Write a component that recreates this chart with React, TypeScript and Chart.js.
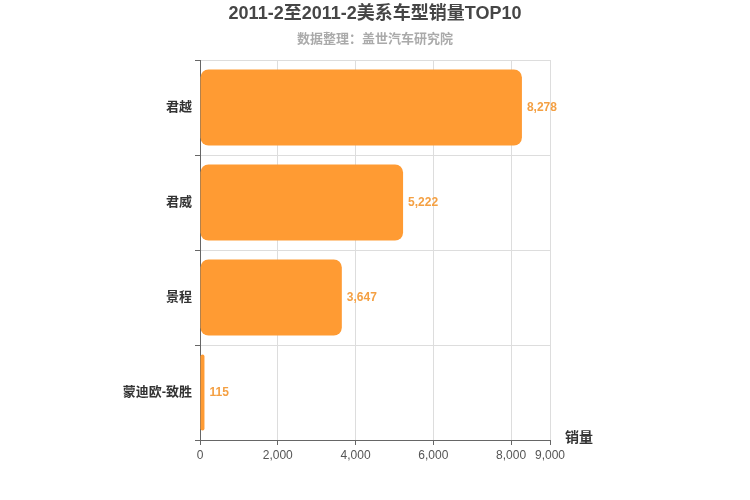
import React, { useEffect, useRef } from "react";
import { Chart, registerables } from "chart.js";

Chart.register(...registerables);

const titleText = "2011-2至2011-2美系车型销量TOP10";
const subtitleText = "数据整理：盖世汽车研究院";
const axisName = "销量";
const categories = ["君越", "君威", "景程", "蒙迪欧-致胜"];
const sales = [8278, 5222, 3647, 115];
const xTicks = [0, 2000, 4000, 6000, 8000, 9000];

const FONT = '"Liberation Sans", "Noto Sans CJK SC", sans-serif';

const extrasPlugin = {
  id: "extras",
  afterDraw(chart: any) {
    const ctx = chart.ctx;
    ctx.save();
    ctx.textAlign = "center";
    ctx.textBaseline = "middle";
    ctx.fillStyle = "#464646";
    ctx.font = `bold 18px ${FONT}`;
    ctx.fillText(titleText, 375, 14);
    ctx.fillStyle = "#aaaaaa";
    ctx.font = `bold 13px ${FONT}`;
    ctx.fillText(subtitleText, 375, 39);

    ctx.textAlign = "left";
    ctx.fillStyle = "#333333";
    ctx.font = `bold 14px ${FONT}`;
    ctx.fillText(axisName, 565, 438);

    const meta = chart.getDatasetMeta(0);
    ctx.fillStyle = "#f4a043";
    ctx.font = `bold 12px ${FONT}`;
    meta.data.forEach((bar: any, i: number) => {
      ctx.fillText(sales[i].toLocaleString("en-US"), bar.x + 5, bar.y);
    });
    ctx.restore();
  },
};

export default function App() {
  const ref = useRef<HTMLCanvasElement>(null);
  useEffect(() => {
    if (!ref.current) return;
    const chart = new Chart(ref.current, {
      type: "bar",
      data: {
        labels: categories,
        datasets: [
          {
            data: sales,
            backgroundColor: "#ff9b33",
            borderRadius: 8,
            borderSkipped: false,
            barPercentage: 0.8,
            categoryPercentage: 1,
          },
        ],
      },
      options: {
        indexAxis: "y",
        animation: false,
        responsive: false,
        layout: { padding: { top: 60, right: 200, bottom: 20, left: 0 } },
        plugins: {
          legend: { display: false },
          tooltip: { enabled: false },
          title: { display: false },
        },
        scales: {
          x: {
            min: 0,
            max: 9000,
            afterBuildTicks: (scale: any) => {
              scale.ticks = xTicks.map((v) => ({ value: v }));
            },
            afterFit: (scale: any) => {
              scale.height = 40;
            },
            grid: { color: "#dddddd", tickColor: "#666666", tickLength: 5, drawOnChartArea: true },
            border: { color: "#666666", width: 1 },
            ticks: {
              color: "#555555",
              font: { family: FONT, size: 12 },
              padding: 3,
              maxRotation: 0,
              autoSkip: false,
              callback: (v: any) => Number(v).toLocaleString("en-US"),
            },
          },
          y: {
            afterFit: (scale: any) => {
              scale.width = 200;
            },
            grid: { color: "#dddddd", tickColor: "#666666", tickLength: 5, offset: true },
            border: { color: "#666666", width: 1 },
            ticks: {
              color: "#333333",
              font: { family: FONT, size: 13, weight: "bold" },
              padding: 3,
            },
          },
        },
      },
      plugins: [extrasPlugin],
    });
    return () => chart.destroy();
  }, []);
  return (
    <div style={{ position: "fixed", left: 0, top: 0, width: 750, height: 500, background: "#fff" }}>
      <canvas ref={ref} width={750} height={500} />
    </div>
  );
}
